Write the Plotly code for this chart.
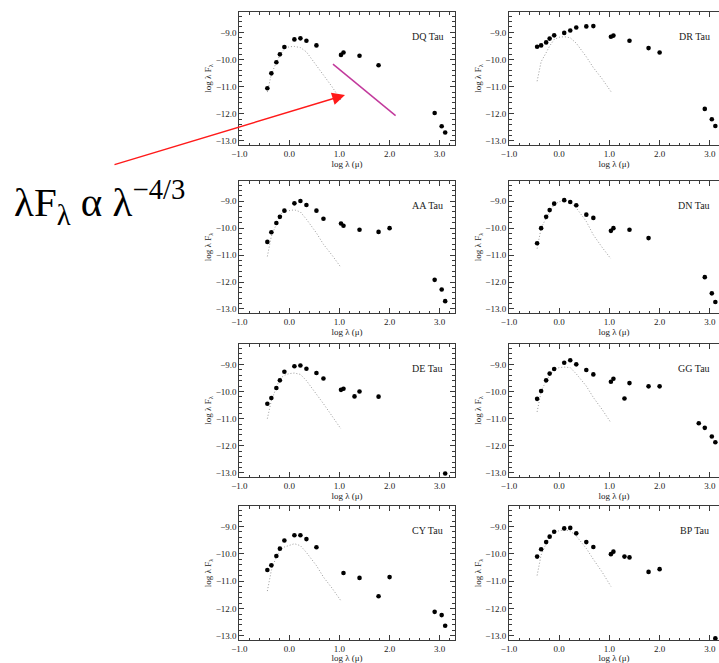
import plotly.graph_objects as go

# ---------------- data ----------------
star_names = ["DQ Tau", "DR Tau", "AA Tau", "DN Tau", "DE Tau", "GG Tau", "CY Tau", "BP Tau"]

phot_x = [-0.44, -0.36, -0.26, -0.19, -0.10, 0.0, 0.10, 0.22, 0.34, 0.54, 0.68, 0.85, 1.03]

dq_x = [-0.44, -0.36, -0.26, -0.19, -0.10, 0.10, 0.22, 0.34, 0.54, 1.03, 1.08, 1.40, 1.78, 2.90, 3.04, 3.11]
dq_y = [-11.06, -10.51, -10.10, -9.81, -9.54, -9.26, -9.22, -9.31, -9.48, -9.83, -9.74, -9.86, -10.21, -11.97, -12.46, -12.69]
dq_phot = [-11.2, -10.55, -10.1, -9.85, -9.6, -9.53, -9.52, -9.56, -9.72, -10.23, -10.56, -11.0, -11.5]

dr_x = [-0.44, -0.36, -0.26, -0.19, -0.10, 0.10, 0.22, 0.34, 0.54, 0.68, 1.03, 1.08, 1.40, 1.78, 2.00, 2.90, 3.04, 3.11]
dr_y = [-9.53, -9.48, -9.37, -9.23, -9.11, -9.02, -8.93, -8.82, -8.78, -8.77, -9.16, -9.12, -9.31, -9.58, -9.74, -11.82, -12.20, -12.45]
dr_phot = [-10.8, -10.08, -9.75, -9.5, -9.26, -9.18, -9.16, -9.2, -9.4, -9.9, -10.3, -10.7, -11.18]

aa_x = [-0.44, -0.36, -0.26, -0.19, -0.10, 0.10, 0.22, 0.34, 0.54, 0.68, 1.03, 1.08, 1.40, 1.78, 2.00, 2.90, 3.04, 3.11]
aa_y = [-10.51, -10.15, -9.81, -9.58, -9.35, -9.08, -8.99, -9.14, -9.35, -9.65, -9.83, -9.91, -10.06, -10.14, -10.0, -11.92, -12.28, -12.71]
aa_phot = [-11.05, -10.3, -9.85, -9.5, -9.38, -9.34, -9.32, -9.4, -9.67, -10.18, -10.6, -11.0, -11.46]

dn_x = [-0.44, -0.36, -0.26, -0.19, -0.10, 0.10, 0.22, 0.34, 0.54, 0.68, 1.03, 1.08, 1.40, 1.78, 2.90, 3.04, 3.11]
dn_y = [-10.56, -10.0, -9.58, -9.33, -9.09, -8.96, -9.03, -9.15, -9.5, -9.62, -10.1, -10.0, -10.06, -10.37, -11.82, -12.42, -12.74]
dn_phot = [-10.76, -10.0, -9.62, -9.4, -9.12, -9.02, -8.99, -9.02, -9.25, -9.75, -10.25, -10.7, -11.14]

de_x = [-0.44, -0.36, -0.26, -0.19, -0.10, 0.10, 0.22, 0.34, 0.54, 0.68, 1.03, 1.08, 1.30, 1.40, 1.78, 3.11]
de_y = [-10.45, -10.24, -9.87, -9.59, -9.27, -9.07, -9.04, -9.16, -9.32, -9.52, -9.94, -9.90, -10.18, -10.0, -10.19, -13.02]
de_phot = [-11.0, -10.33, -9.85, -9.53, -9.4, -9.34, -9.32, -9.37, -9.6, -10.08, -10.45, -10.9, -11.38]

gg_x = [-0.44, -0.36, -0.26, -0.19, -0.10, 0.10, 0.22, 0.34, 0.54, 0.68, 1.03, 1.08, 1.30, 1.40, 1.78, 2.00, 2.78, 2.90, 3.04, 3.11]
gg_y = [-10.27, -9.98, -9.59, -9.34, -9.17, -8.94, -8.85, -9.0, -9.21, -9.37, -9.64, -9.53, -10.26, -9.69, -9.81, -9.81, -11.17, -11.34, -11.66, -11.87]
gg_phot = [-10.75, -10.0, -9.6, -9.4, -9.18, -9.12, -9.1, -9.12, -9.35, -9.8, -10.22, -10.65, -11.15]

cy_x = [-0.44, -0.36, -0.26, -0.19, -0.10, 0.10, 0.22, 0.34, 0.54, 1.08, 1.40, 1.78, 2.00, 2.90, 3.04, 3.11]
cy_y = [-10.59, -10.42, -10.08, -9.81, -9.51, -9.32, -9.32, -9.46, -9.76, -10.70, -10.88, -11.55, -10.85, -12.12, -12.24, -12.63]
cy_phot = [-11.36, -10.6, -10.1, -9.88, -9.75, -9.68, -9.63, -9.7, -9.95, -10.43, -10.85, -11.25, -11.72]

bp_x = [-0.44, -0.36, -0.26, -0.19, -0.10, 0.10, 0.22, 0.34, 0.54, 0.68, 1.03, 1.08, 1.30, 1.40, 1.78, 2.00, 3.11]
bp_y = [-10.10, -9.83, -9.57, -9.37, -9.19, -9.07, -9.05, -9.25, -9.57, -9.75, -10.01, -9.92, -10.10, -10.13, -10.66, -10.56, -13.09]
bp_phot = [-10.79, -10.04, -9.62, -9.4, -9.23, -9.15, -9.13, -9.16, -9.35, -9.8, -10.2, -10.65, -11.19]

obs_x = [dq_x, dr_x, aa_x, dn_x, de_x, gg_x, cy_x, bp_x]
obs_y = [dq_y, dr_y, aa_y, dn_y, de_y, gg_y, cy_y, bp_y]
phot_y = [dq_phot, dr_phot, aa_phot, dn_phot, de_phot, gg_phot, cy_phot, bp_phot]

# power-law guide line in the DQ Tau panel (lambda F_lambda ~ lambda^-4/3)
slope_x = [0.87, 2.12]
slope_y = [-10.17, -12.07]

# arrow tip (DQ Tau panel data coords)
arrow_tip = (1.11, -11.31)

# ---------------- layout geometry ----------------
W, H = 719, 663
col_px = [(239.3, 454.7), (509.0, 719.0)]
col_range = [[-1.0, 3.3], [-1.0, 3.183]]
row_px = [(12, 145), (181, 313), (344, 477), (506, 640)]
y_range = [-13.15, -8.25]

FONT = "Liberation Serif"
AX = "#3a3a3a"
TXT = "#222"

fig = go.Figure()
layout = dict(
    width=W, height=H,
    margin=dict(l=0, r=0, t=0, b=0),
    paper_bgcolor="white", plot_bgcolor="white",
    showlegend=False,
    font=dict(family=FONT, size=9, color=TXT),
    annotations=[],
)

for i, name in enumerate(star_names):
    r, c = divmod(i, 2)
    idx = i + 1
    xa = "x" if idx == 1 else f"x{idx}"
    ya = "y" if idx == 1 else f"y{idx}"
    xkey = "xaxis" if idx == 1 else f"xaxis{idx}"
    ykey = "yaxis" if idx == 1 else f"yaxis{idx}"
    x0, x1 = col_px[c]
    t0, t1 = row_px[r]

    fig.add_trace(go.Scatter(
        x=phot_x, y=phot_y[i], mode="lines",
        line=dict(color="#9a9a9a", width=1, dash="1px,2px"),
        xaxis=xa, yaxis=ya, hoverinfo="skip"))
    fig.add_trace(go.Scatter(
        x=obs_x[i], y=obs_y[i], mode="markers",
        marker=dict(color="black", size=4.6),
        xaxis=xa, yaxis=ya))

    common = dict(
        showline=True, linecolor=AX, linewidth=1,
        ticks="inside", ticklen=5, tickcolor=AX, tickwidth=1,
        showgrid=False, zeroline=False, automargin=False,
        tickfont=dict(family=FONT, size=9, color=TXT),
        tickformat=".1f", tickmode="linear", dtick=1.0,
        minor=dict(ticks="inside", ticklen=2.5, tickcolor=AX, tickwidth=1,
                   tickmode="linear", dtick=0.2, showgrid=False),
    )
    layout[xkey] = dict(
        common,
        domain=[x0 / W, x1 / W], range=col_range[c],
        anchor=ya, tick0=0.0, mirror="allticks",
        title=dict(text="log λ (μ)", font=dict(family=FONT, size=9, color=TXT), standoff=1),
    )
    layout[ykey] = dict(
        common,
        domain=[1 - t1 / H, 1 - t0 / H], range=y_range,
        anchor=xa, tick0=-13.0,
        mirror="allticks" if c == 0 else False,
        title=dict(text="log λ F<sub>λ</sub>", font=dict(family=FONT, size=9, color=TXT), standoff=2),
    )
    layout["annotations"].append(dict(
        x=2.76 if c == 0 else 2.69, y=-9.15, xref=xa, yref=ya,
        text=name, showarrow=False, xanchor="center", yanchor="middle",
        font=dict(family=FONT, size=10, color=TXT)))

# guide line in DQ Tau panel
fig.add_trace(go.Scatter(x=slope_x, y=slope_y, mode="lines",
                         line=dict(color="#c23a9c", width=1.5),
                         xaxis="x", yaxis="y", hoverinfo="skip"))

# red arrow from the formula to the DQ Tau panel
layout["annotations"].append(dict(
    x=arrow_tip[0], y=arrow_tip[1], xref="x", yref="y",
    ax=-232, ay=70, axref="pixel", ayref="pixel",
    showarrow=True, arrowhead=2, arrowsize=1.7, arrowwidth=1.5,
    arrowcolor="#ff1a1a", standoff=0, text=""))

# the formula
layout["annotations"].append(dict(
    x=12 / W, y=1 - 202 / H, xref="paper", yref="paper",
    xanchor="left", yanchor="middle", showarrow=False,
    text="λF<sub>λ</sub> α λ<sup>−4/3</sup>",
    font=dict(family=FONT, size=41, color="black")))

fig.update_layout(layout)
fig.write_html("out.html")
